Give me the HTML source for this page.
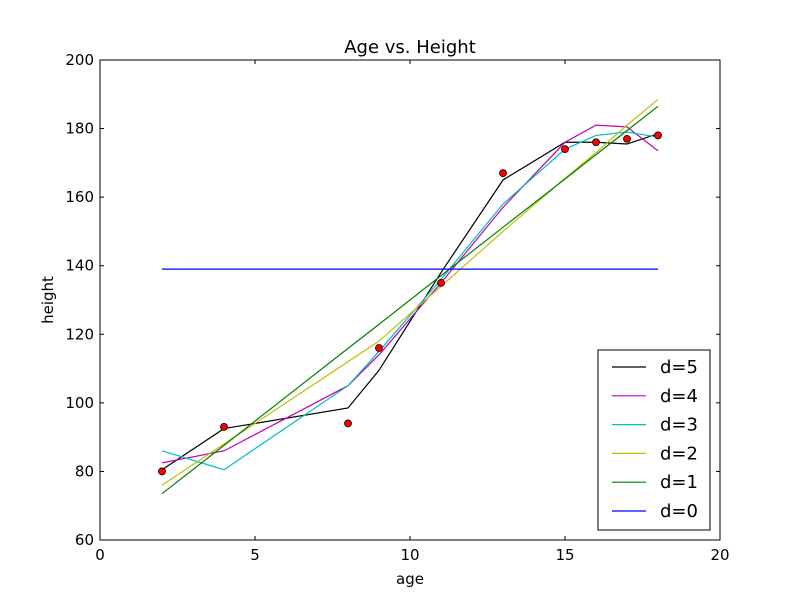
<!DOCTYPE html>
<html><head><meta charset="utf-8"><style>
body{margin:0;background:#fff;}
svg text{font-family:"DejaVu Sans","Liberation Sans",sans-serif;}
</style></head><body>
<svg id="chart" width="800" height="600" xmlns="http://www.w3.org/2000/svg"></svg>
<script>
const ages=[2,4,8,9,11,13,15,16,17,18];
const heights=[80,93,94,116,135,167,174,176,177,178];
const d5=[80.5,92.5,98.5,109.5,138,165,176,176,175.5,178.5];
const d4=[82.5,86,105,114,135,157,176,181,180.5,173.5];
const d3=[86,80.5,105,115,136,158,174,178,179,177.5];
const d2=[76,88,112,118,134,150,165.5,173,181,188.5];
const d1=[73.5,87.6,115.9,122.9,137.1,151.2,165.3,172.4,179.4,186.5];
const d0=[139,139,139,139,139,139,139,139,139,139];
const seriesNames=["d=5","d=4","d=3","d=2","d=1","d=0"];
const xTicks=[0,5,10,15,20];
const yTicks=[60,80,100,120,140,160,180,200];

const svg=document.getElementById('chart');
const NS="http://www.w3.org/2000/svg";
const L=100,R=720,T=60,B=540;
const xs=v=>L+(v-0)/(20-0)*(R-L);
const ys=v=>B-(v-60)/(200-60)*(B-T);
function mk(tag,attrs){const e=document.createElementNS(NS,tag);for(const k in attrs)e.setAttribute(k,attrs[k]);svg.appendChild(e);return e;}

const series=[d5,d4,d3,d2,d1,d0];
const colors=["#000000","#bf00bf","#00bfbf","#bfbf00","#008000","#0000ff"];
series.forEach((s,i)=>{
  const p=mk('polyline',{points:s.map((v,j)=>xs(ages[j])+','+ys(v)).join(' '),fill:'none',stroke:colors[i],'stroke-width':1.2});
  
  
});
heights.forEach((h,j)=>{
  const c=mk('circle',{cx:xs(ages[j]),cy:ys(h),r:3.5,fill:'#ff0000',stroke:'#000','stroke-width':0.8});
  
  
});
const frame=mk('rect',{x:L,y:T,width:R-L,height:B-T,fill:'none',stroke:'#000','stroke-width':1});


xTicks.forEach(t=>{
  const x=xs(t);
  mk('line',{x1:x,y1:B,x2:x,y2:B-4,stroke:'#000'});
  mk('line',{x1:x,y1:T,x2:x,y2:T+4,stroke:'#000'});
  const tx=mk('text',{x:x,y:B+20,'text-anchor':'middle','font-size':15});
  tx.textContent=t;
  
  
});
yTicks.forEach(t=>{
  const y=ys(t);
  mk('line',{x1:L,y1:y,x2:L+4,y2:y,stroke:'#000'});
  mk('line',{x1:R,y1:y,x2:R-4,y2:y,stroke:'#000'});
  const tx=mk('text',{x:L-6,y:y+5,'text-anchor':'end','font-size':15});
  tx.textContent=t;
  
  
});
const title=mk('text',{x:410,y:53,'text-anchor':'middle','font-size':18});
title.textContent="Age vs. Height";


const xl=mk('text',{x:410,y:584,'text-anchor':'middle','font-size':15});
xl.textContent="age";


const yl=mk('text',{x:53,y:300,'text-anchor':'middle','font-size':15,transform:'rotate(-90 53 300)'});
yl.textContent="height";


const lg=mk('rect',{x:598,y:350,width:112,height:180,fill:'#fff',stroke:'#000','stroke-width':1});


seriesNames.forEach((n,i)=>{
  const y=367+i*28.8;
  mk('line',{x1:612,y1:y,x2:646,y2:y,stroke:colors[i],'stroke-width':1.2});
  const t=mk('text',{x:660,y:y+6,'font-size':18});
  t.textContent=n;
  
  
});
</script>
</body></html>
